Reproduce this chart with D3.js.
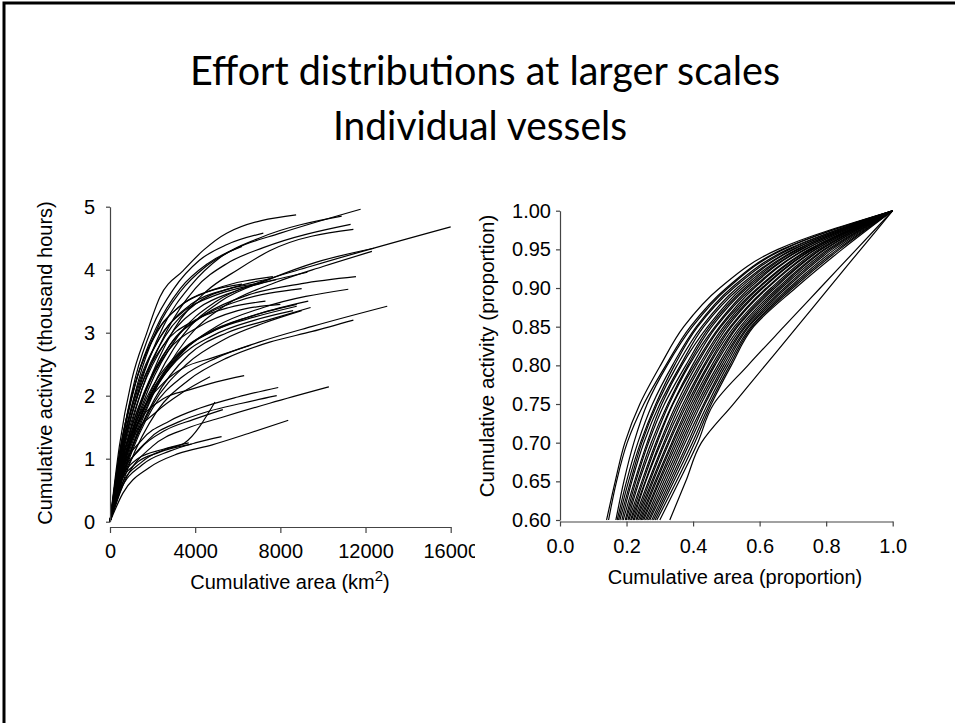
<!DOCTYPE html>
<html><head><meta charset="utf-8">
<script src="https://cdn.jsdelivr.net/npm/d3@7"></script>
<style>html,body{margin:0;padding:0;background:#fff;} svg{display:block}</style>
</head><body>
<svg id="c" width="955" height="723"></svg>
<script>
// ---------------- DATA ----------------
const titleLines = ["Effort distributions at larger scales", "Individual vessels"];
const leftXTicks = [0, 4000, 8000, 12000, 16000];
const leftYTicks = [0, 1, 2, 3, 4, 5];
const rightXTicks = [0.0, 0.2, 0.4, 0.6, 0.8, 1.0];
const rightYTicks = [0.60, 0.65, 0.70, 0.75, 0.80, 0.85, 0.90, 0.95, 1.00];
const leftXLabel = "Cumulative area (km";
const leftYLabel = "Cumulative activity (thousand hours)";
const rightXLabel = "Cumulative area (proportion)";
const rightYLabel = "Cumulative activity (proportion)";

// Left panel: each vessel = [cumulative area km2, cumulative activity (thousand hours)]
const leftCurves = [
  [[0,0],[440,1.2],[1020,2.25],[1720,2.99],[2350,3.57],[3450,3.99],[4390,4.31],[5480,4.58],[8740,4.87]],
  [[0,0],[500,1.15],[1200,2.3],[2000,3.1],[3000,3.7],[4200,4.15],[5500,4.4],[7200,4.58]],
  [[0,0],[550,1.1],[1300,2.2],[2200,3.05],[3300,3.65],[4500,4.05],[6000,4.35],[8000,4.58],[11770,4.96]],
  [[0,0],[600,1.1],[1400,2.15],[2500,3.1],[3800,3.75],[5200,4.2],[7000,4.5],[10880,4.85]],
  [[0,0],[650,1.05],[1500,2.1],[2700,3.05],[4000,3.7],[5500,4.1],[7200,4.35],[11300,4.72]],
  [[0,0],[700,1.0],[1700,2.1],[3000,3.05],[4500,3.65],[6000,4.0],[7500,4.3],[11430,4.64]],
  [[0,0],[500,1.1],[1200,2.2],[2200,3.1],[3300,3.7],[4600,4.1],[6200,4.37]],
  [[0,0],[700,1.0],[1800,2.1],[3200,2.95],[5000,3.5],[7000,3.8],[9400,4.05],[16000,4.68]],
  [[0,0],[750,1.0],[1900,2.05],[3400,2.95],[5200,3.5],[7500,3.85],[9700,4.12],[12400,4.34]],
  [[0,0],[800,0.95],[2000,2.0],[3600,2.9],[5500,3.45],[7800,3.8],[10000,4.05],[12300,4.29]],
  [[0,0],[500,1.05],[1300,2.1],[2300,2.9],[3500,3.35],[5000,3.6],[7000,3.78],[9270,3.96]],
  [[0,0],[650,1.0],[1600,2.0],[2800,2.8],[4500,3.3],[6500,3.6],[9000,3.78],[11550,3.89]],
  [[0,0],[450,1.1],[1200,2.2],[2200,3.0],[3400,3.45],[5000,3.7],[7650,3.89]],
  [[0,0],[500,1.0],[1400,2.1],[2600,2.95],[4000,3.45],[5800,3.72],[7600,3.86]],
  [[0,0],[600,1.0],[1600,2.05],[2800,2.8],[4300,3.25],[6000,3.5],[9000,3.70]],
  [[0,0],[750,0.95],[1900,1.95],[3300,2.65],[5000,3.1],[7200,3.4],[11190,3.69]],
  [[0,0],[400,1.0],[1100,2.1],[2000,2.9],[3200,3.4],[4600,3.65],[6200,3.77]],
  [[0,0],[480,1.05],[1300,2.15],[2400,2.95],[3800,3.45],[5400,3.68],[7000,3.78]],
  [[0,0],[550,1.0],[1500,2.1],[2700,2.9],[4200,3.4],[5800,3.65],[7800,3.84]],
  [[0,0],[700,0.95],[1800,1.95],[3200,2.65],[5000,3.05],[7000,3.3],[9310,3.50]],
  [[0,0],[600,0.9],[1700,1.95],[3000,2.6],[4600,3.0],[6500,3.25],[8770,3.45]],
  [[0,0],[700,1.0],[1900,2.0],[3400,2.7],[5000,3.05],[6800,3.25],[8770,3.42]],
  [[0,0],[800,0.95],[2100,1.95],[3700,2.65],[5500,3.0],[7400,3.2],[9420,3.40]],
  [[0,0],[800,0.9],[2000,1.8],[3400,2.3],[5000,2.6],[7000,2.85],[9500,3.1],[13020,3.42]],
  [[0,0],[900,0.9],[2200,1.75],[3700,2.25],[5500,2.6],[7500,2.85],[9500,3.02],[11430,3.20]],
  [[0,0],[550,0.95],[1500,1.95],[2700,2.7],[4200,3.1],[6000,3.35],[8000,3.45]],
  [[0,0],[650,0.9],[1700,1.85],[3100,2.55],[4800,2.95],[6800,3.2],[8600,3.35]],
  [[0,0],[500,1.0],[1300,2.0],[2500,2.8],[4000,3.2],[5600,3.4],[7300,3.5]],
  [[0,0],[750,0.9],[2000,1.85],[3600,2.5],[5400,2.9],[7200,3.15],[9000,3.35]],
  [[0,0],[500,0.9],[1400,1.7],[2500,2.2],[3500,2.45],[4800,2.6],[6600,2.8]],
  [[0,0],[450,0.85],[1300,1.55],[2500,1.95],[3800,2.1],[5000,2.22],[6300,2.32]],
  [[0,0],[500,0.75],[1500,1.3],[2800,1.6],[4200,1.8],[6000,1.98],[7900,2.13]],
  [[0,0],[600,0.7],[1800,1.3],[3200,1.58],[4600,1.75],[6200,1.88],[7830,2.00]],
  [[0,0],[700,0.65],[2000,1.2],[3600,1.48],[5200,1.65],[7500,1.88],[10280,2.14]],
  [[0,0],[500,0.55],[1500,0.95],[2600,1.15],[3500,1.25],[4930,1.90]],
  [[0,0],[450,0.65],[1400,1.15],[2600,1.45],[3900,1.62],[5300,1.78]],
  [[0,0],[500,0.5],[1500,0.9],[2800,1.12],[4000,1.25],[5240,1.35]],
  [[0,0],[600,0.45],[1800,0.85],[3200,1.08],[4800,1.22],[6500,1.4],[8370,1.61]],
  [[0,0],[400,0.55],[1200,0.92],[2300,1.1],[3830,1.23]],
  [[0,0],[450,0.6],[1300,1.0],[2500,1.15],[3700,1.25]],
  [[0,0],[400,0.75],[1100,1.35],[2200,1.75],[3400,2.05],[4700,2.3]]
];

// Right panel: activity levels and, per vessel, the cumulative area proportion reached at each level
const rightLevels = [0.60, 0.65, 0.70, 0.75, 0.80, 0.85, 0.90, 0.95, 1.00];
const rightCurves = [
  [.140,.166,.195,.240,.302,.372,.480,.655,1],
  [.146,.170,.202,.252,.318,.392,.500,.668,1],
  [.168,.192,.222,.262,.322,.398,.505,.672,1],
  [.172,.200,.234,.278,.338,.410,.515,.684,1],
  [.176,.206,.242,.288,.344,.414,.522,.690,1],
  [.180,.212,.246,.292,.352,.426,.532,.700,1],
  [.186,.216,.252,.300,.362,.432,.540,.702,1],
  [.190,.224,.262,.306,.366,.444,.548,.712,1],
  [.196,.228,.266,.314,.378,.450,.556,.716,1],
  [.199,.234,.274,.324,.384,.456,.562,.724,1],
  [.204,.238,.280,.328,.388,.466,.570,.726,1],
  [.207,.246,.288,.338,.398,.470,.578,.736,1],
  [.212,.250,.292,.340,.404,.480,.584,.738,1],
  [.215,.256,.300,.350,.410,.484,.594,.748,1],
  [.220,.258,.304,.356,.418,.492,.598,.752,1],
  [.223,.266,.312,.362,.424,.498,.606,.758,1],
  [.228,.270,.316,.370,.432,.504,.610,.760,1],
  [.231,.276,.324,.376,.436,.512,.620,.768,1],
  [.236,.280,.328,.382,.444,.516,.624,.770,1],
  [.240,.286,.336,.388,.448,.524,.634,.778,1],
  [.244,.290,.340,.394,.456,.530,.640,.784,1],
  [.248,.296,.346,.400,.462,.534,.646,.786,1],
  [.252,.300,.352,.406,.466,.542,.654,.794,1],
  [.257,.306,.358,.412,.474,.548,.660,.798,1],
  [.261,.312,.364,.418,.480,.554,.666,.806,1],
  [.266,.318,.370,.424,.486,.558,.674,.812,1],
  [.270,.324,.376,.432,.492,.564,.680,.818,1],
  [.276,.330,.384,.436,.498,.568,.688,.826,1],
  [.281,.336,.390,.444,.504,.574,.694,.834,1],
  [.286,.342,.398,.450,.510,.578,.700,.840,1],
  [.291,.350,.405,.455,.515,.582,.708,.848,1],
  [.330,.378,.425,.521,.617,.713,.808,.904,1],
  [.300,.358,.414,.462,.565,.673,.782,.891,1]
];

// ---------------- DRAWING ----------------
const svg = d3.select("#c");
const FONT = "'Liberation Sans', Arial, sans-serif";

// slide frame
svg.append("rect").attr("x", 4).attr("y", 3).attr("width", 1000).attr("height", 1000)
  .attr("fill", "none").attr("stroke", "#000").attr("stroke-width", 3);

// title
const titleSpec = [{y: 85, w: 590, cx: 485}, {y: 140, w: 294, cx: 480}];
titleLines.forEach((t, i) => {
  svg.append("text").attr("x", titleSpec[i].cx).attr("y", titleSpec[i].y)
    .attr("text-anchor", "middle").attr("font-family", "Lato, 'Open Sans', sans-serif")
    .attr("font-size", 40).attr("fill", "#000")
    .attr("textLength", titleSpec[i].w).attr("lengthAdjust", "spacingAndGlyphs")
    .text(t);
});

function styleAxis(g, fs) {
  g.selectAll("path.domain").attr("stroke", "#444").attr("stroke-width", 1.2);
  g.selectAll(".tick line").attr("stroke", "#444").attr("stroke-width", 1.2);
  g.selectAll(".tick text").attr("font-family", FONT).attr("font-size", fs).attr("fill", "#000");
}

// ----- Left panel -----
svg.append("clipPath").attr("id", "clipL").append("rect")
  .attr("x", 0).attr("y", 0).attr("width", 475).attr("height", 723);
const gL = svg.append("g").attr("clip-path", "url(#clipL)");
const xL = d3.scaleLinear().domain([0, 16000]).range([110, 450.7]);
const yL = d3.scaleLinear().domain([0, 5]).range([521.7, 206.7]);

const lineL = d3.line().x(d => xL(d[0])).y(d => yL(d[1])).curve(d3.curveMonotoneX);
gL.append("g").selectAll("path").data(leftCurves).join("path")
  .attr("d", lineL).attr("fill", "none").attr("stroke", "#000").attr("stroke-width", 1.2);

const axXL = gL.append("g").attr("transform", "translate(0,527)")
  .call(d3.axisBottom(xL).tickValues(leftXTicks).tickSize(6).tickSizeOuter(0).tickPadding(11).tickFormat(d3.format("d")));
styleAxis(axXL, 20);
const axYL = gL.append("g").attr("transform", "translate(110,0)")
  .call(d3.axisLeft(yL).tickValues(leftYTicks).tickSize(4).tickSizeOuter(0).tickPadding(11).tickFormat(d3.format("d")));
styleAxis(axYL, 20);

const xtL = gL.append("text").attr("x", 290).attr("y", 589).attr("text-anchor", "middle")
  .attr("font-family", FONT).attr("font-size", 20).attr("fill", "#000");
xtL.append("tspan").text(leftXLabel);
xtL.append("tspan").attr("font-size", 15).attr("dy", -8).text("2");
xtL.append("tspan").attr("dy", 8).text(")");

gL.append("text").attr("transform", "translate(52,363) rotate(-90)").attr("text-anchor", "middle")
  .attr("font-family", FONT).attr("font-size", 20).attr("fill", "#000").text(leftYLabel);

// ----- Right panel -----
const gR = svg.append("g");
const xR = d3.scaleLinear().domain([0, 1]).range([560, 892.7]);
const yR = d3.scaleLinear().domain([0.6, 1]).range([520, 210.7]);

const lineR = d3.line().x(d => xR(d[0])).y(d => yR(d[1])).curve(d3.curveMonotoneY);
gR.append("g").selectAll("path").data(rightCurves.map(c => c.map((x, i) => [x, rightLevels[i]])))
  .join("path").attr("d", lineR).attr("fill", "none").attr("stroke", "#000").attr("stroke-width", 1.2);

const axXR = gR.append("g").attr("transform", "translate(0,521.5)")
  .call(d3.axisBottom(xR).tickValues(rightXTicks).tickSize(5).tickSizeOuter(0).tickPadding(12).tickFormat(d3.format(".1f")));
styleAxis(axXR, 20);
const axYR = gR.append("g").attr("transform", "translate(560,0)")
  .call(d3.axisLeft(yR).tickValues(rightYTicks).tickSize(4).tickSizeOuter(0).tickPadding(5).tickFormat(d3.format(".2f")));
styleAxis(axYR, 20);

gR.append("text").attr("x", 735).attr("y", 584).attr("text-anchor", "middle")
  .attr("font-family", FONT).attr("font-size", 20).attr("fill", "#000").text(rightXLabel);
gR.append("text").attr("transform", "translate(494,356) rotate(-90)").attr("text-anchor", "middle")
  .attr("font-family", FONT).attr("font-size", 20.5).attr("fill", "#000").text(rightYLabel);
</script>
</body></html>
